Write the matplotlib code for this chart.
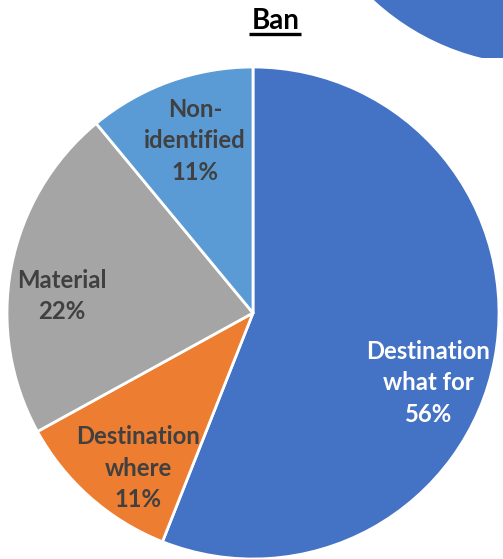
import matplotlib.pyplot as plt
from matplotlib.patches import Circle, Rectangle

# data
labels = ['Destination\nwhat for', 'Destination\nwhere', 'Material', 'Non-\nidentified']
shares = [56, 11, 22, 11]
colors = ['#4472C4', '#ED7D31', '#A5A5A5', '#5B9BD5']
text_colors = ['white', '#404040', '#404040', '#404040']
title = 'Ban'

# label anchor points in pixel coords (x, y from top)
label_pos = [(428, 383), (138, 468), (62, 296), (195, 141)]

W, H = 503, 559
fig = plt.figure(figsize=(W / 100, H / 100), dpi=100)
ax = fig.add_axes([0, 0, 1, 1])

# neighbouring chart peeking in at the top right
clip = Rectangle((0, H - 58), W, 58, transform=ax.transData)
other = Circle((540, H + 180), 245, color='#4472C4', lw=0)
ax.add_patch(other)
other.set_clip_path(clip)

ax.pie(shares, colors=colors, startangle=90, counterclock=False,
       center=(253, H - 313), radius=246, frame=True,
       wedgeprops=dict(edgecolor='white', linewidth=2))
ax.set_xlim(0, W)
ax.set_ylim(0, H)
ax.set_aspect('equal')
ax.axis('off')

for name, pct, (x, y), c in zip(labels, shares, label_pos, text_colors):
    ax.text(x, H - y, f'{name}\n{pct}%', ha='center', va='center',
            fontsize=17.2, fontweight='bold', color=c, family='Lato',
            linespacing=1.45)

ax.text(276, H - 21, title, ha='center', va='center', fontsize=20,
        fontweight='bold', family='Lato', color='black')
ax.plot([249, 301], [H - 34, H - 34], color='black', lw=2.4,
        solid_capstyle='butt')

fig.savefig('out.png', dpi=100)
